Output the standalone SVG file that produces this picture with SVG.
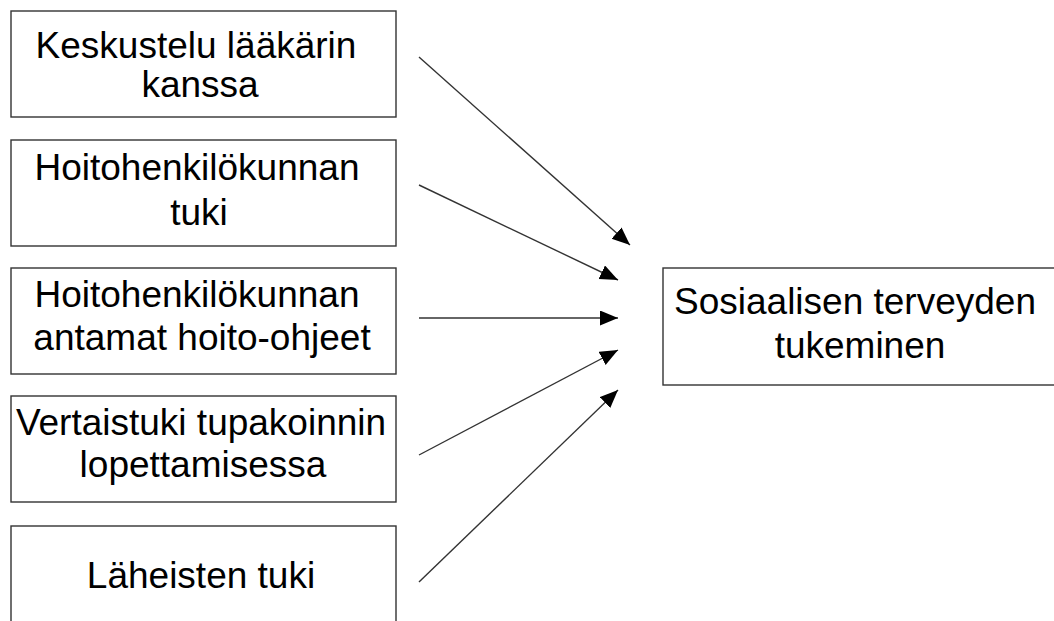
<svg xmlns="http://www.w3.org/2000/svg" width="1054" height="621" viewBox="0 0 1054 621">
<defs>
<style>
.box{fill:#fff;stroke:#333;stroke-width:1.4}
.t{font-family:"Liberation Sans",Arial,sans-serif;font-size:37px;fill:#000;text-anchor:middle}
.c{stroke:#333;stroke-width:1.4;fill:none;marker-end:url(#ah)}
</style>
<marker id="ah" markerUnits="userSpaceOnUse" markerWidth="19" markerHeight="16" refX="18" refY="7.5" orient="auto" viewBox="0 0 19 16">
<path d="M0,0 L18,7.5 L0,15 Z" fill="#000"/>
</marker>
</defs>
<rect width="1054" height="621" fill="#fff"/>
<g id="n1"><rect class="box" x="11" y="11" width="385" height="106"/>
<text class="t"><tspan x="196" y="58">Keskustelu lääkärin</tspan><tspan x="200" y="97">kanssa</tspan></text></g>
<g id="n2"><rect class="box" x="11" y="140" width="385" height="106"/>
<text class="t"><tspan x="197" y="180">Hoitohenkilökunnan</tspan><tspan x="199" y="225">tuki</tspan></text></g>
<g id="n3"><rect class="box" x="11" y="268" width="385" height="106"/>
<text class="t"><tspan x="197" y="307">Hoitohenkilökunnan</tspan><tspan x="202" y="350">antamat hoito-ohjeet</tspan></text></g>
<g id="n4"><rect class="box" x="11" y="396" width="385" height="106"/>
<text class="t"><tspan x="201" y="435">Vertaistuki tupakoinnin</tspan><tspan x="203" y="477">lopettamisessa</tspan></text></g>
<g id="n5"><rect class="box" x="11" y="526" width="385" height="110"/>
<text class="t" x="201" y="588">Läheisten tuki</text></g>
<g id="n6"><rect class="box" x="663" y="268" width="400" height="117"/>
<text class="t"><tspan x="855" y="314">Sosiaalisen terveyden</tspan><tspan x="860" y="358">tukeminen</tspan></text></g>
<g id="connectors">
<line class="c" x1="419" y1="57" x2="630" y2="245"/>
<line class="c" x1="419" y1="185" x2="618" y2="280"/>
<line class="c" x1="419" y1="318" x2="618" y2="318"/>
<line class="c" x1="419" y1="455" x2="618" y2="350"/>
<line class="c" x1="419" y1="582" x2="618" y2="390"/>
</g>
</svg>
